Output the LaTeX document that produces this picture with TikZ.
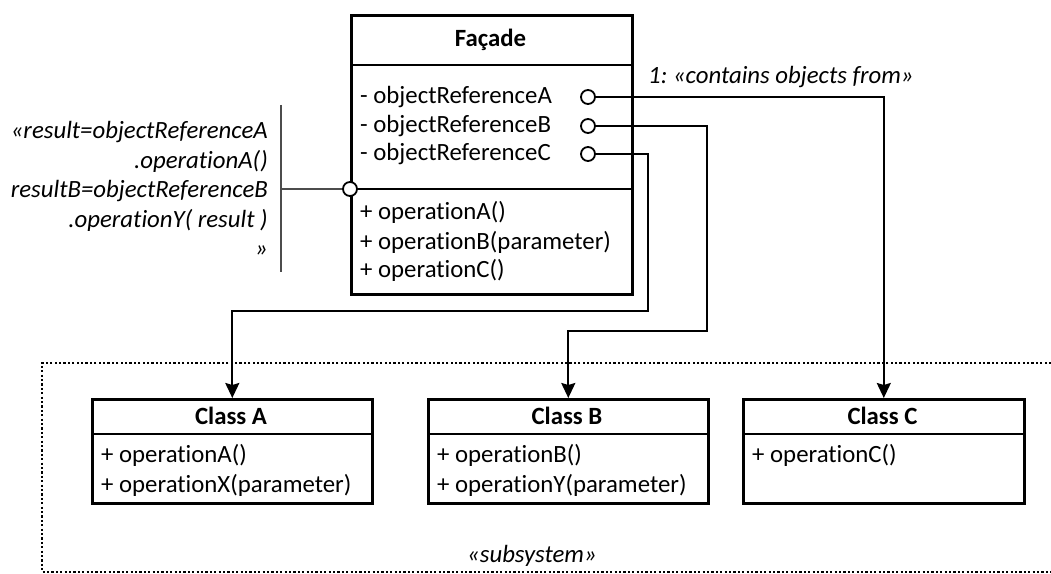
\documentclass[tikz,border=0pt]{standalone}
\usepackage{fontspec}
\setmainfont{Carlito}[Ligatures={NoCommon}]
\usetikzlibrary{arrows.meta,shadows}

\tikzset{
  umlbox/.style={draw, line width=2.6bp, fill=white, inner sep=0pt,
    drop shadow={shadow xshift=1.2bp, shadow yshift=-1.2bp, opacity=0.35, fill=black}},
  sepline/.style={line width=2.6bp},
  txt/.style={inner sep=0pt, font=\fontsize{24.8bp}{29.5bp}\selectfont},
  member/.style={txt, anchor=west},
  title/.style={txt, font=\fontsize{24.8bp}{29.5bp}\selectfont\bfseries},
  note/.style={txt, font=\fontsize{24.8bp}{29.5bp}\selectfont\itshape},
  port/.style={circle, draw, line width=1.8bp, fill=white, minimum size=14bp, inner sep=0pt},
  link/.style={line width=2bp},
  assoc/.style={link, -{Stealth[length=15bp,width=14bp,inset=2bp]}},
  frame/.style={line width=2.1bp, dash pattern=on 2.2bp off 2.2bp},
  notebar/.style={line width=1.1bp, draw=black!70}
}

\begin{document}
\frenchspacing
\begin{tikzpicture}[x=1bp,y=-1bp]
\useasboundingbox (0,0) rectangle (1051,574);
\clip (0,0) rectangle (1051,574);

% subsystem frame (open towards the right)
\draw[frame] (1060,363) -- (42,363) -- (42,572) -- (1060,572);
\node[note] (subsys) at (532,556) {«subsystem»};

% Facade class
\node[umlbox, anchor=north west, minimum width=281bp, minimum height=279bp] (fac) at (350,14) {};
\coordinate (fsep1) at (350,65);
\coordinate (fsep2) at (350,189);
\draw[sepline] (fsep1) -- (fsep1 -| fac.east);
\draw[sepline] (fsep2) -- (fsep2 -| fac.east);
\node[title] (factitle) at (490.5,40) {Façade};
\node[member] (refA) at (360,97) {- objectReferenceA};
\node[member] (refB) at (360,126) {- objectReferenceB};
\node[member] (refC) at (360,154) {- objectReferenceC};
\node[member] (fopA) at (360,212) {+ operationA()};
\node[member] (fopB) at (360,242) {+ operationB(parameter)};
\node[member] (fopC) at (360,270) {+ operationC()};

% Class A
\node[umlbox, anchor=north west, minimum width=280bp, minimum height=104bp] (clsA) at (91,398) {};
\draw[sepline] (91,434) -- (371,434);
\node[title] (clsAtitle) at (231,416) {Class A};
\node[member] (aop1) at (101,455) {+ operationA()};
\node[member] (aop2) at (101,485) {+ operationX(parameter)};

% Class B
\node[umlbox, anchor=north west, minimum width=280bp, minimum height=104bp] (clsB) at (427,398) {};
\draw[sepline] (427,434) -- (707,434);
\node[title] (clsBtitle) at (567,416) {Class B};
\node[member] (bop1) at (437,455) {+ operationB()};
\node[member] (bop2) at (437,485) {+ operationY(parameter)};

% Class C
\node[umlbox, anchor=north west, minimum width=281bp, minimum height=104bp] (clsC) at (742,398) {};
\draw[sepline] (742,434) -- (1023,434);
\node[title] (clsCtitle) at (882.5,416) {Class C};
\node[member] (cop1) at (752,455) {+ operationC()};

% association ends on the attributes
\node[port] (pA) at (588,97) {};
\node[port] (pB) at (588,126) {};
\node[port] (pC) at (588,154) {};

\node[note, anchor=west] (contains) at (648,77) {1: «contains objects from»};

\draw[assoc] (pA.east) -| (clsC.north);
\draw[assoc] (pB.east) -- (707,126) -- (707,331) -| (clsB.north);
\draw[assoc] (pC.east) -- (648,154) -- (648,311) -| (clsA.north);

% behaviour note attached to the operations compartment
\coordinate (nbtop) at (281,105);
\coordinate (nbbot) at (281,272);
\draw[notebar] (nbtop) -- (nbbot);
\node[port] (pOps) at (fsep2) {};
\draw[notebar] (pOps.west) -- (pOps.west -| nbtop);
\node[note, anchor=east, align=right] (behav) at (268,189)
  {«result=objectReferenceA\\.operationA()\\resultB=objectReferenceB\\.operationY( result )\\»};
\end{tikzpicture}
\end{document}
